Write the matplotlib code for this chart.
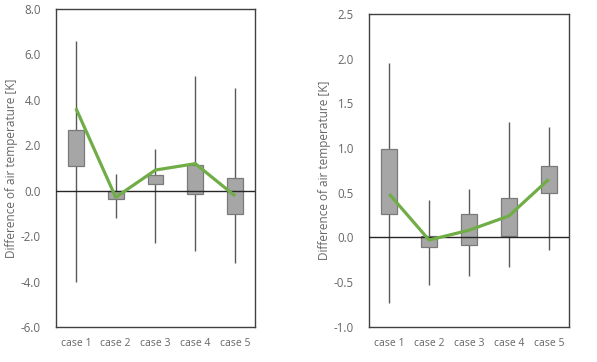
import matplotlib.pyplot as plt

cases = ["case 1", "case 2", "case 3", "case 4", "case 5"]

# left panel
left_wmax = [6.59, 0.72, 1.85, 5.05, 4.52]
left_wmin = [-4.03, -1.22, -2.32, -2.64, -3.20]
left_q3 = [2.69, 0.0, 0.69, 1.15, 0.55]
left_q1 = [1.09, -0.35, 0.28, -0.15, -1.03]
left_mean = [3.63, -0.29, 0.91, 1.19, -0.23]

# right panel
right_wmax = [1.95, 0.42, 0.54, 1.29, 1.23]
right_wmin = [-0.74, -0.53, -0.43, -0.33, -0.14]
right_q3 = [0.99, 0.02, 0.26, 0.44, 0.80]
right_q1 = [0.26, -0.11, -0.08, 0.02, 0.50]
right_mean = [0.485, -0.03, 0.08, 0.24, 0.65]

plt.rcParams["font.family"] = ["Open Sans", "DejaVu Sans"]
TXT = "#666666"


def draw(ax, wmin, wmax, q1, q3, mean, ylim, step):
    x = list(range(len(cases)))
    ax.vlines(x, wmin, wmax, color="#595959", lw=1.0, zorder=1)
    ax.bar(x, [b - a for a, b in zip(q1, q3)], bottom=q1, width=0.4,
           color="#a6a6a6", edgecolor="#7a7a7a", lw=0.9, zorder=2)
    ax.axhline(0, color="#262626", lw=1.0, zorder=3)
    ax.plot(x, mean, color="#70ad47", lw=2.3, zorder=4, solid_capstyle="butt")
    ax.set_xlim(-0.5, len(cases) - 0.5)
    ax.set_ylim(*ylim)
    ticks = []
    v = ylim[0]
    while v <= ylim[1] + 1e-9:
        ticks.append(round(v, 2))
        v += step
    ax.set_yticks(ticks)
    ax.set_yticklabels([f"{t:.1f}" for t in ticks])
    ax.set_xticks(x)
    ax.set_xticklabels(cases, fontsize=7.5)
    ax.tick_params(length=0, colors=TXT)
    ax.tick_params(axis="y", pad=11, labelsize=8.3)
    ax.tick_params(axis="x", pad=8)
    for s in ax.spines.values():
        s.set_color("#404040")
        s.set_linewidth(1.0)
    ax.set_ylabel("Difference of air temperature [K]", color=TXT, fontsize=8.5, labelpad=2)


fig = plt.figure(figsize=(5.97, 3.62), dpi=100)
ax1 = fig.add_axes([0.0938, 0.0967, 0.3333, 0.8785])
ax2 = fig.add_axes([0.6186, 0.0975, 0.334, 0.8638])
draw(ax1, left_wmin, left_wmax, left_q1, left_q3, left_mean, (-6, 8), 2.0)
draw(ax2, right_wmin, right_wmax, right_q1, right_q3, right_mean, (-1, 2.5), 0.5)

fig.savefig("out.png", dpi=100)
